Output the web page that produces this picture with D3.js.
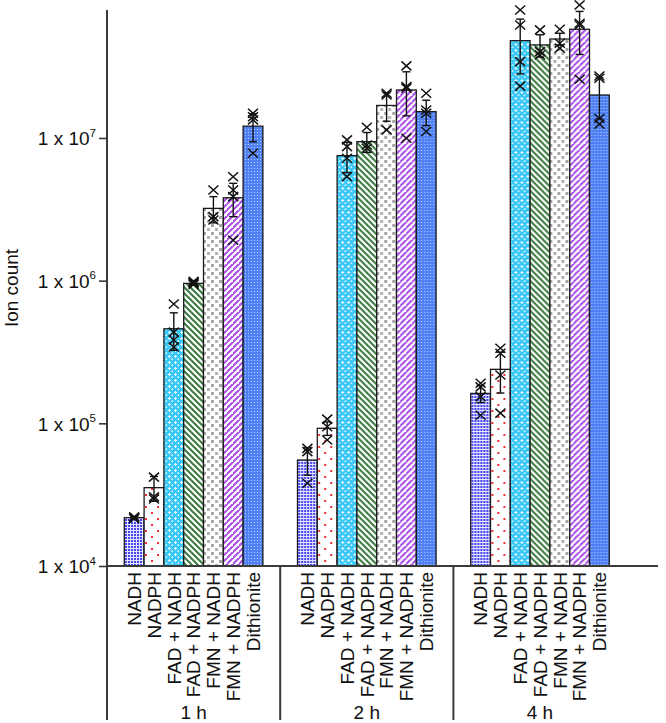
<!DOCTYPE html>
<html><head><meta charset="utf-8">
<script src="https://cdn.jsdelivr.net/npm/d3@7"></script>
<style>
html,body{margin:0;padding:0;background:#fff;}
svg{display:block;font-family:"Liberation Sans",Arial,Helvetica,sans-serif;}
</style></head>
<body>
<svg id="chart" width="666" height="723"></svg>
<script>
// ---------- data ----------
const groups = ["1 h", "2 h", "4 h"];
const categories = ["NADH", "NADPH", "FAD + NADH", "FAD + NADPH", "FMN + NADH", "FMN + NADPH", "Dithionite"];
const tickValues = [1e4, 1e5, 1e6, 1e7];
const tickExponents = ["4", "5", "6", "7"];

const means1h = [2.18e4, 3.54e4, 4.6e5, 9.57e5, 3.21e6, 3.81e6, 1.21e7];
const means2h = [5.53e4, 9.23e4, 7.52e6, 9.42e6, 1.69e7, 2.17e7, 1.53e7];
const means4h = [1.62e5, 2.39e5, 4.81e7, 4.49e7, 4.94e7, 5.78e7, 2.0e7];

const sd1h = [400, 7000, 1.35e5, 2.5e4, 6.7e5, 1.0e6, 2.7e6];
const sd2h = [1.2e4, 1.0e4, 1.8e6, 1.5e6, 3.8e6, 7.4e6, 3.1e6];
const sd4h = [2.2e4, 7.6e4, 2.0e7, 8e6, 4.8e6, 1.93e7, 6.4e6];

const points1h = [
  [2.15e4, 2.2e4, 2.2e4],
  [4.2e4, 3.05e4, 2.95e4],
  [6.86e5, 4.36e5, 3.84e5, 3.43e5],
  [9.4e5, 9.7e5, 9.9e5, 9.6e5],
  [4.32e6, 2.81e6, 2.66e6],
  [5.35e6, 4.32e6, 3.88e6, 1.92e6],
  [1.49e7, 1.41e7, 1.34e7, 7.82e6]
];
const points2h = [
  [6.68e4, 6.33e4, 3.80e4],
  [1.07e5, 9.46e4, 7.64e4],
  [9.69e6, 8.69e6, 7.21e6, 5.36e6],
  [1.19e7, 8.93e6, 8.47e6],
  [2.06e7, 2.0e7, 1.14e7],
  [3.2e7, 2.29e7, 2.23e7, 9.95e6],
  [2.06e7, 1.57e7, 1.49e7, 1.11e7]
];
const points4h = [
  [1.91e5, 1.80e5, 1.54e5, 1.14e5],
  [3.36e5, 3.1e5, 2.18e5, 1.18e5],
  [7.89e7, 6.19e7, 3.43e7, 2.31e7],
  [5.72e7, 4.03e7, 3.82e7],
  [5.78e7, 4.61e7, 4.26e7],
  [8.55e7, 6.37e7, 6.19e7, 2.58e7],
  [2.72e7, 2.62e7, 1.37e7, 1.25e7]
];

// ---------- build table ----------
const meansAll = [means1h, means2h, means4h];
const sdAll = [sd1h, sd2h, sd4h];
const pointsAll = [points1h, points2h, points4h];
const rows = [];
groups.forEach((g, gi) => categories.forEach((c, ci) => {
  rows.push({group: g, cat: c, ci, mean: meansAll[gi][ci], sd: sdAll[gi][ci], pts: pointsAll[gi][ci]});
}));

// ---------- layout ----------
const svg = d3.select("#chart");
const x0 = d3.scaleBand().domain(groups).range([107, 626.6]).paddingInner(0).paddingOuter(0);
const x1 = d3.scaleBand().domain(categories).range([0, x0.bandwidth()]).paddingInner(0).paddingOuter(0.874);
const y = d3.scaleLog().domain([1e4, Math.pow(10, 7.897)]).range([566, 10]);
const baseY = y(1e4);
const FS = 19;

// ---------- patterns ----------
const defs = svg.append("defs");
const patIds = ["pNADH", "pNADPH", "pFADNADH", "pFADNADPH", "pFMNNADH", "pFMNNADPH", "pDith"];
// NADH: blue squares
let p = defs.append("pattern").attr("id", patIds[0]).attr("patternUnits", "userSpaceOnUse").attr("width", 3).attr("height", 3);
p.append("rect").attr("width", 3).attr("height", 3).attr("fill", "#e4e4ff");
p.append("rect").attr("width", 2).attr("height", 2).attr("fill", "#4646f0");
// NADPH: red dots
p = defs.append("pattern").attr("id", patIds[1]).attr("patternUnits", "userSpaceOnUse").attr("width", 12).attr("height", 12);
p.append("rect").attr("width", 12).attr("height", 12).attr("fill", "#fff");
p.append("rect").attr("x", 2).attr("y", 2).attr("width", 2).attr("height", 2).attr("fill", "#f03030");
p.append("rect").attr("x", 8).attr("y", 8).attr("width", 2).attr("height", 2).attr("fill", "#f03030");
// FAD + NADH: cyan with white crosses
p = defs.append("pattern").attr("id", patIds[2]).attr("patternUnits", "userSpaceOnUse").attr("width", 6).attr("height", 6);
p.append("rect").attr("width", 6).attr("height", 6).attr("fill", "#3cc8f6");
p.append("rect").attr("x", 2).attr("y", 1).attr("width", 1).attr("height", 3).attr("fill", "#e8f8ff");
p.append("rect").attr("x", 1).attr("y", 2).attr("width", 3).attr("height", 1).attr("fill", "#e8f8ff");
p.append("rect").attr("x", 5).attr("y", 4).attr("width", 1).attr("height", 3).attr("fill", "#bdeeff");
p.append("rect").attr("x", 4).attr("y", 5).attr("width", 3).attr("height", 1).attr("fill", "#bdeeff");
// FAD + NADPH: green "\" hatch
p = defs.append("pattern").attr("id", patIds[3]).attr("patternUnits", "userSpaceOnUse").attr("width", 6).attr("height", 6);
p.append("rect").attr("width", 6).attr("height", 6).attr("fill", "#fff");
p.append("path").attr("d", "M-1,-1 L7,7 M-4,2 L2,8 M4,-2 L10,4").attr("stroke", "#3a7a3e").attr("stroke-width", 2);
// FMN + NADH: grey squares staggered
p = defs.append("pattern").attr("id", patIds[4]).attr("patternUnits", "userSpaceOnUse").attr("width", 8).attr("height", 8);
p.append("rect").attr("width", 8).attr("height", 8).attr("fill", "#fff");
p.append("rect").attr("x", 0).attr("y", 0).attr("width", 3).attr("height", 3).attr("fill", "#a6a6a6");
p.append("rect").attr("x", 4).attr("y", 4).attr("width", 3).attr("height", 3).attr("fill", "#b4b4b4");
// FMN + NADPH: purple "/" hatch
p = defs.append("pattern").attr("id", patIds[5]).attr("patternUnits", "userSpaceOnUse").attr("width", 6).attr("height", 6);
p.append("rect").attr("width", 6).attr("height", 6).attr("fill", "#fff");
p.append("path").attr("d", "M-1,7 L7,-1 M-4,4 L2,-2 M4,10 L10,4").attr("stroke", "#a84be6").attr("stroke-width", 2);
// Dithionite: blue with light mesh
p = defs.append("pattern").attr("id", patIds[6]).attr("patternUnits", "userSpaceOnUse").attr("width", 3).attr("height", 3);
p.append("rect").attr("width", 3).attr("height", 3).attr("fill", "#4f80f4");
p.append("rect").attr("width", 1).attr("height", 1).attr("fill", "#b8ccff");

// ---------- bars ----------
const gGroups = svg.append("g");
const barG = gGroups.selectAll("g.grp").data(groups).join("g")
  .attr("class", "grp").attr("transform", d => `translate(${x0(d)},0)`);

barG.selectAll("rect.bar").data(g => rows.filter(r => r.group === g)).join("rect")
  .attr("class", "bar")
  .attr("x", d => x1(d.cat))
  .attr("width", x1.bandwidth())
  .attr("y", d => y(d.mean))
  .attr("height", d => baseY - y(d.mean))
  .attr("fill", d => `url(#${patIds[d.ci]})`)
  .attr("stroke", "#1a1a1a").attr("stroke-width", 1.3);

// error bars
const capW = 4;
const eb = barG.selectAll("g.err").data(g => rows.filter(r => r.group === g)).join("g")
  .attr("class", "err")
  .attr("transform", d => `translate(${x1(d.cat) + x1.bandwidth() / 2},0)`);
eb.append("line").attr("y1", d => y(d.mean + d.sd)).attr("y2", d => y(Math.max(d.mean - d.sd, 1e4)))
  .attr("stroke", "#111").attr("stroke-width", 1.4);
eb.append("line").attr("x1", -capW).attr("x2", capW).attr("y1", d => y(d.mean + d.sd)).attr("y2", d => y(d.mean + d.sd))
  .attr("stroke", "#111").attr("stroke-width", 1.4);
eb.append("line").attr("x1", -capW).attr("x2", capW).attr("y1", d => y(Math.max(d.mean - d.sd, 1e4))).attr("y2", d => y(Math.max(d.mean - d.sd, 1e4)))
  .attr("stroke", "#111").attr("stroke-width", 1.4);

// replicate points (X markers)
eb.selectAll("path.pt").data(d => d.pts).join("path")
  .attr("class", "pt")
  .attr("transform", v => `translate(0,${y(v)})`)
  .attr("d", "M-5,-4.5 L5,4.5 M-5,4.5 L5,-4.5")
  .attr("stroke", "#111").attr("stroke-width", 1.5).attr("fill", "none");

// ---------- axes ----------
const axisColor = "#3a3a3a";
svg.append("line").attr("x1", 107).attr("x2", 107).attr("y1", 10).attr("y2", 720)
  .attr("stroke", axisColor).attr("stroke-width", 2);
svg.append("line").attr("x1", 107).attr("x2", 658).attr("y1", baseY).attr("y2", baseY)
  .attr("stroke", axisColor).attr("stroke-width", 2);
svg.selectAll("line.sep").data(groups.slice(1)).join("line").attr("class", "sep")
  .attr("x1", d => x0(d)).attr("x2", d => x0(d)).attr("y1", baseY).attr("y2", 720)
  .attr("stroke", axisColor).attr("stroke-width", 2);

const yAxis = d3.axisLeft(y).tickValues(tickValues).tickSize(8).tickPadding(3).tickFormat(() => "");
const yg = svg.append("g").attr("transform", "translate(107,0)").call(yAxis);
yg.select(".domain").remove();
yg.selectAll(".tick line").attr("stroke", axisColor).attr("stroke-width", 1.6);
yg.selectAll(".tick text").each(function(d, i) {
  const t = d3.select(this).attr("font-size", FS).attr("fill", "#111").attr("dy", "0.36em")
    .attr("font-family", "'Liberation Sans',Arial,sans-serif");
  t.text(null);
  t.append("tspan").text("1 x 10");
  t.append("tspan").attr("font-size", 11.5).attr("dy", "-0.75em").text(tickExponents[i]);
});

// y label
svg.append("text").attr("transform", `translate(18,${(10 + baseY) / 2}) rotate(-90)`)
  .attr("text-anchor", "middle").attr("font-size", FS).attr("fill", "#111").text("Ion count");

// category labels
barG.selectAll("text.cat").data(categories).join("text").attr("class", "cat")
  .attr("transform", d => `translate(${x1(d) + x1.bandwidth() / 2},572) rotate(-90)`)
  .attr("text-anchor", "end").attr("dy", "0.36em").attr("font-size", FS).attr("fill", "#111")
  .text(d => d);

// group labels
barG.append("text").attr("x", x0.bandwidth() / 2).attr("y", 719).attr("text-anchor", "middle")
  .attr("font-size", FS).attr("fill", "#111").text(d => d);
</script>
</body></html>
